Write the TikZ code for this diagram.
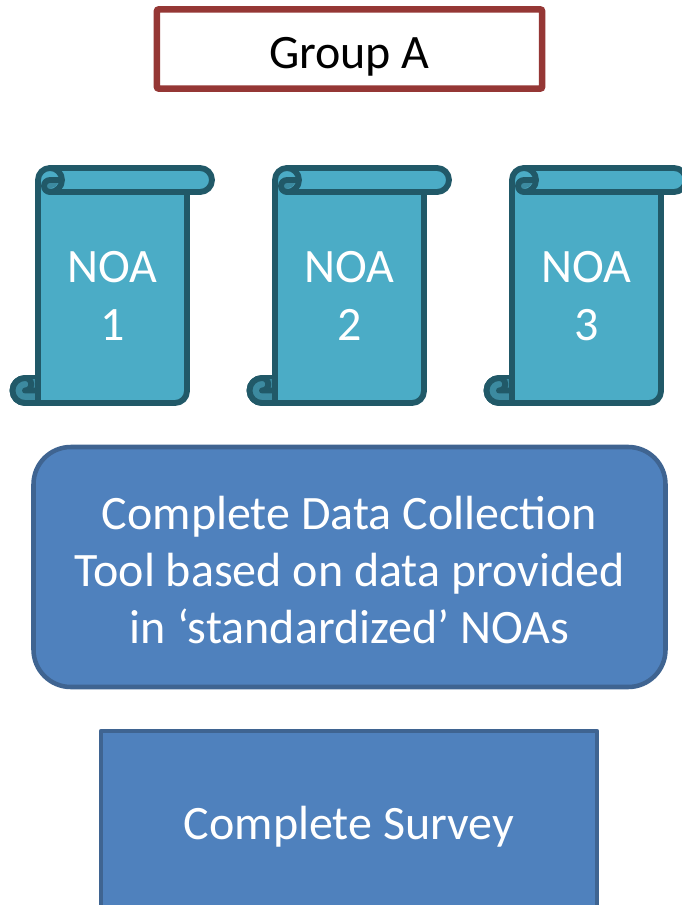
\documentclass[tikz,border=0pt]{standalone}
\usepackage{fontspec}
\setmainfont{Carlito}
\definecolor{scrollfill}{HTML}{4BACC6}
\definecolor{scrolldark}{HTML}{3C8AA0}
\definecolor{scrollline}{HTML}{215968}
\definecolor{boxfill}{HTML}{4F81BD}
\definecolor{boxline}{HTML}{3F6491}
\definecolor{redline}{HTML}{953735}
\tikzset{
  scrollline/.style={draw=scrollline,line width=4.4pt,line join=round,line cap=round},
  whitetext/.style={text=white,align=center,font=\fontsize{36}{43}\selectfont},
  pics/noascroll/.style={code={
    \path[fill=scrollfill,scrollline]
      (38,180) arc[start angle=-180,end angle=-90,radius=12] -- (200,168)
      arc[start angle=-90,end angle=90,radius=12] -- (187,192) -- (187,391)
      arc[start angle=0,end angle=90,radius=12] -- (25,403)
      arc[start angle=-270,end angle=-90,radius=12.5] -- (38,378) -- cycle;
    \fill[scrolldark] (44,183) -- (58,183) arc[start angle=20,end angle=90,radius=8] -- (50,192)
      arc[start angle=-270,end angle=-180,radius=7] -- cycle;
    \fill[scrolldark] (25,379) arc[start angle=-90,end angle=-270,radius=11.5] -- (36,402) -- (36,379) -- cycle;
    \draw[scrollline] (50,168) arc[start angle=-90,end angle=90,radius=12] -- (200,192);
    \draw[scrollline] (50,192) arc[start angle=-270,end angle=-90,radius=6] -- (61,180);
    \draw[scrollline] (25,403) -- (38,403);
    \draw[scrollline] (38,378) -- (38,403);
    \draw[scrollline] (25,403) arc[start angle=90,end angle=270,radius=12.5];
    \draw[scrollline] (25,378) arc[start angle=-90,end angle=90,radius=6.25] -- (35,390.5);
  }}
}
\begin{document}
\begin{tikzpicture}[x=0.75pt,y=-0.75pt]
\useasboundingbox (0,0) rectangle (681,905);
\fill[white] (0,0) rectangle (681,905);
\node[draw=redline,line width=4.8pt,fill=white,rounded corners=1.5pt,minimum width=289pt,minimum height=59.5pt,inner sep=0pt] (groupbox) at (349.5,49) {};
\node[font=\fontsize{36}{43}\selectfont,text=black,inner sep=0pt] (groupa) at (349.5,56.5) {Group A};
\pic at (0,0) {noascroll};
\pic at (237,0) {noascroll};
\pic at (474,0) {noascroll};
\node[whitetext] (noa1) at (112.5,296) {NOA\\1};
\node[whitetext] (noa2) at (349.5,296) {NOA\\2};
\node[whitetext] (noa3) at (586.5,296) {NOA\\3};
\node[draw=boxline,fill=boxfill,line width=3.4pt,rounded corners=28pt,minimum width=474pt,minimum height=180pt,inner sep=0pt] (collectbox) at (349.5,567) {};
\node[whitetext,inner sep=0pt] (collect) at (349.5,570) {Complete Data Collection\\Tool based on data provided\\in ‘standardized’ NOAs};
\path[draw=boxline,fill=boxfill,line width=3.4pt,line join=round] (101,930) -- (101,731) -- (597,731) -- (597,930);
\node[whitetext,inner sep=0pt] (survey) at (349,827) {Complete Survey};
\end{tikzpicture}
\end{document}
